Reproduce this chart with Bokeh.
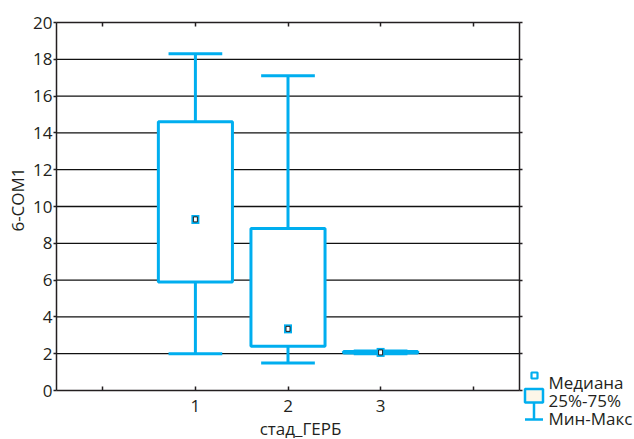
import math
from bokeh.plotting import figure
from bokeh.models import (LinearAxis, FixedTicker, Label, BoxAnnotation,
                          PolyAnnotation, ColumnDataSource, Range1d)
from bokeh.embed import file_html
from bokeh.resources import INLINE

# ---- data ----
categories = [1, 2, 3]
mins = [2.0, 1.5, 2.0]
q1s = [5.9, 2.4, 2.04]
medians = [9.3, 3.35, 2.07]
q3s = [14.6, 8.8, 2.12]
maxs = [18.3, 17.1, 2.15]
x_ticks = [0, 1, 2, 3, 4]
x_tick_labels = ["", "1", "2", "3", ""]
y_ticks = [0, 2, 4, 6, 8, 10, 12, 14, 16, 18, 20]
x_bounds = (-0.5, 4.5)
y_bounds = (0, 20)
x_title = "стад_ГЕРБ"
y_title = "6-COM1"
legend_labels = ["Медиана", "25%-75%", "Мин-Макс"]

BLUE = "#00aeef"
DARK = "#231f20"
FONT = "Open Sans"
FS = "17px"
BOX_W = 0.8
CAP_W = 0.58

# ---- layout: the frame covers the whole canvas, axes are pinned in it ----
W, H = 634, 439
PL, PR, PT, PB = 56, 519, 22, 390          # pixel box of the plotting area
sx = (PR - PL) / (x_bounds[1] - x_bounds[0])
sy = (PB - PT) / (y_bounds[1] - y_bounds[0])
x_range = Range1d(x_bounds[0] - PL / sx, x_bounds[1] + (W - PR) / sx)
y_range = Range1d(y_bounds[0] - (H - PB) / sy, y_bounds[1] + PT / sy)

src = ColumnDataSource(dict(
    x=categories, lo=mins, q1=q1s, med=medians, q3=q3s, hi=maxs,
    cl=[c - CAP_W / 2 for c in categories],
    cr=[c + CAP_W / 2 for c in categories],
))

p = figure(width=W, height=H, output_backend="svg", toolbar_location=None,
           x_range=x_range, y_range=y_range,
           min_border_left=0, min_border_right=0, min_border_top=0, min_border_bottom=0,
           background_fill_color="white", border_fill_color="white",
           outline_line_color=None)
p.xgrid.visible = False
p.ygrid.visible = False

def style_axis(ax):
    ax.axis_line_color = DARK
    ax.axis_line_width = 1.5
    ax.major_tick_line_color = DARK
    ax.major_tick_line_width = 1.5
    ax.minor_tick_line_color = None
    ax.major_label_text_font = FONT
    ax.major_label_text_font_size = FS
    ax.major_label_text_color = DARK

xa = p.xaxis[0]
style_axis(xa)
xa.fixed_location = y_bounds[0]
xa.bounds = x_bounds
xa.ticker = FixedTicker(ticks=x_ticks)
xa.major_label_overrides = {t: l for t, l in zip(x_ticks, x_tick_labels)}
xa.major_tick_in = 4
xa.major_tick_out = 0
xa.major_label_standoff = 9

ya = p.yaxis[0]
style_axis(ya)
ya.fixed_location = x_bounds[0]
ya.bounds = y_bounds
ya.ticker = FixedTicker(ticks=y_ticks)
ya.major_tick_in = 0
ya.major_tick_out = 3
ya.major_label_standoff = 1

top = LinearAxis(fixed_location=y_bounds[1], bounds=x_bounds,
                 ticker=FixedTicker(ticks=x_ticks), major_tick_in=4, major_tick_out=0,
                 major_label_standoff=0)
style_axis(top)
top.major_label_overrides = {t: "" for t in x_ticks}
p.add_layout(top, "above")

right = LinearAxis(fixed_location=x_bounds[1], bounds=y_bounds,
                   ticker=FixedTicker(ticks=y_ticks), major_tick_in=0, major_tick_out=3,
                   major_label_standoff=0)
style_axis(right)
right.major_label_overrides = {t: "" for t in y_ticks}
p.add_layout(right, "right")

# horizontal grid lines across the plotting area
grid_y = y_ticks[1:-1]
p.segment(x0=[x_bounds[0]] * len(grid_y), x1=[x_bounds[1]] * len(grid_y),
          y0=grid_y, y1=grid_y, line_color="#111111", line_width=1.3)

# whiskers
p.segment(x0="x", y0="q3", x1="x", y1="hi", source=src, line_color=BLUE, line_width=3)
p.segment(x0="x", y0="lo", x1="x", y1="q1", source=src, line_color=BLUE, line_width=3)
p.segment(x0="cl", y0="hi", x1="cr", y1="hi", source=src, line_color=BLUE, line_width=3)
p.segment(x0="cl", y0="lo", x1="cr", y1="lo", source=src, line_color=BLUE, line_width=3)
# boxes
p.vbar(x="x", width=BOX_W, bottom="q1", top="q3", source=src,
       fill_color="white", line_color=BLUE, line_width=3)
# median markers
p.rect(x="x", y="med", width=8, height=9, width_units="screen", height_units="screen",
       source=src, fill_color=BLUE, line_color=None)
p.rect(x="x", y="med", width=4, height=5, width_units="screen", height_units="screen",
       source=src, fill_color="white", line_color=DARK, line_width=1)

# screen helpers (frame == canvas; y measured up from the bottom)
def fx(X):
    return X
def fy(Y):
    return H - Y

# axis titles
p.add_layout(Label(x=fx(300), y=fy(428), x_units="screen", y_units="screen", text=x_title,
                   text_font=FONT, text_font_size=FS, text_color=DARK,
                   text_align="center", text_baseline="alphabetic"))
p.add_layout(Label(x=fx(17), y=fy(199), x_units="screen", y_units="screen", text=y_title,
                   angle=math.pi / 2, text_font=FONT, text_font_size=FS, text_color=DARK,
                   text_align="center", text_baseline="middle"))

# legend
def sbox(l, r, t, b, **kw):
    return BoxAnnotation(left=fx(l), right=fx(r), top=fy(t), bottom=fy(b),
                         left_units="screen", right_units="screen",
                         top_units="screen", bottom_units="screen", level="overlay",
                         line_alpha=1, fill_alpha=1, **kw)

p.add_layout(sbox(531, 537, 372, 378, fill_color="white",
                  line_color=BLUE, line_width=2.2))
p.add_layout(sbox(524.5, 542.5, 388.5, 402, fill_color="#fdf6e8",
                  line_color=BLUE, line_width=2.5))
p.add_layout(PolyAnnotation(xs=[fx(533.5), fx(533.5), fx(524.5), fx(542.5), fx(533.5)],
                            ys=[fy(402), fy(419), fy(419), fy(419), fy(419)],
                            xs_units="screen", ys_units="screen",
                            fill_alpha=0, line_alpha=1, line_color=BLUE, line_width=2.5,
                            level="overlay"))
for lab, base in zip(legend_labels, [381.5, 400, 417.5]):
    p.add_layout(Label(x=fx(548), y=fy(base), x_units="screen", y_units="screen", text=lab,
                       text_font=FONT, text_font_size=FS, text_color=DARK,
                       text_align="left", text_baseline="alphabetic"))

open("out.html", "w").write(file_html(p, INLINE))
